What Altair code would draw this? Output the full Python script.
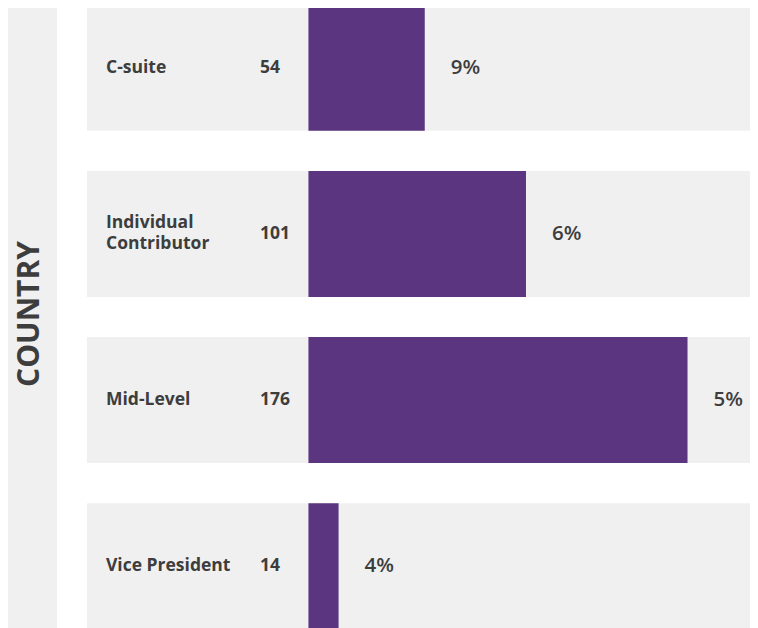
import altair as alt
import pandas as pd

# Data
roles = ["C-suite", "Individual Contributor", "Mid-Level", "Vice President"]
role_labels = ["C-suite", "Individual\nContributor", "Mid-Level", "Vice President"]
counts = [54, 101, 176, 14]
pct_labels = ["9%", "6%", "5%", "4%"]
axis_title = "COUNTRY"

df = pd.DataFrame({
    "role": roles,
    "label": role_labels,
    "count": counts,
    "pct": pct_labels,
})
df["lines"] = df["label"].str.count("\n") + 1

PURPLE = "#5C3580"
BG = "#F0F0F0"
TXT = "#3D3D3D"
FONT = "Open Sans"
H = 621
W = 663
LH = 21

# Left strip with the rotated title
left = (
    alt.Chart(pd.DataFrame({"t": [axis_title]}))
    .mark_text(angle=270, fontSize=30, fontWeight="bold", font=FONT, color=TXT,
               align="center", baseline="middle")
    .encode(text="t:N", x=alt.value(22), y=alt.value(306))
    .properties(width=49, height=H, view=alt.ViewConfig(fill=BG, stroke=None))
)

y_enc = alt.Y("role:N", sort=roles, axis=None,
              scale=alt.Scale(paddingInner=0.242, paddingOuter=0, range=[-3, H]))
x_scale = alt.Scale(domain=[-102.8, 205.0], nice=False, zero=False)

base = alt.Chart(df)

rows = base.mark_rect(color=BG, clip=True).encode(
    y=y_enc, x=alt.value(0), x2=alt.value("width")
)

bars = base.mark_bar(color=PURPLE, clip=True).encode(
    y=y_enc,
    x=alt.X("count:Q", scale=x_scale, axis=None),
)

name_style = dict(align="left", baseline="middle", fontSize=17.5,
                  fontWeight="bold", font=FONT, color=TXT,
                  lineBreak="\n", lineHeight=LH)

names_single = base.transform_filter("datum.lines == 1").mark_text(
    **name_style).encode(y=y_enc, x=alt.value(19), text="label:N")

names_multi = base.transform_filter("datum.lines == 2").mark_text(
    dy=-LH / 2, **name_style).encode(y=y_enc, x=alt.value(19), text="label:N")

count_text = base.mark_text(align="left", baseline="middle", fontSize=17.5,
                            fontWeight="bold", font=FONT, color=TXT).encode(
    y=y_enc, x=alt.value(173), text="count:Q"
)

pct_text = base.mark_text(align="left", baseline="middle", fontSize=20.5,
                          fontWeight=600, font=FONT, color=TXT, dx=26).encode(
    y=y_enc, x=alt.X("count:Q", scale=x_scale, axis=None), text="pct:N"
)

right = alt.layer(rows, bars, names_single, names_multi, count_text,
                  pct_text).properties(width=W, height=H)

chart = (
    alt.hconcat(left, right, spacing=30)
    .properties(padding=0)
    .configure_view(stroke=None)
)

chart.save("out.html", embed_options={"renderer": "svg", "actions": False})
